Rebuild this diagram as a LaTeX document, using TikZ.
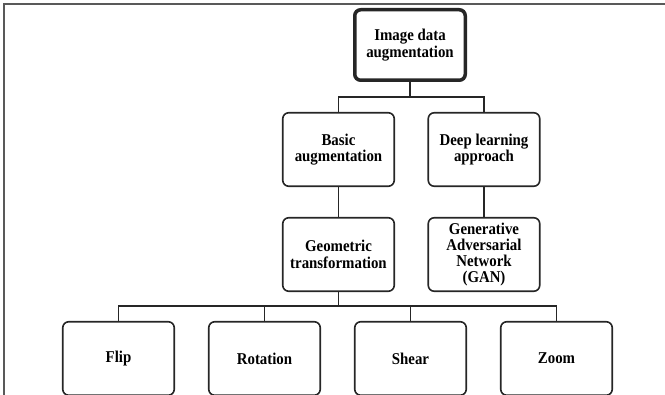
\documentclass[tikz,border=0pt]{standalone}
\usepackage{fontspec}
\setmainfont[FakeStretch=0.9]{Liberation Serif}

\tikzstyle{box} = [draw=black!85,line width=1.6pt,rounded corners=6pt,minimum width=111.5pt,minimum height=73.5pt,inner sep=2pt,align=center,font=\fontsize{16.5}{16.3}\selectfont\bfseries]
\tikzstyle{root box} = [box,line width=3.5pt,minimum width=110.5pt,minimum height=70.5pt]
\tikzstyle{link} = [draw=black!85,line width=1.6pt]
\tikzstyle{frame} = [draw=black!65,line width=1.5pt]

\begin{document}
\begin{tikzpicture}[x=1pt,y=-1pt]
    \useasboundingbox (0,0) rectangle (665,395);
    \draw[frame] (4,395) -- (4,4) -- (665,4);

    \node[root box] (augment) at (410,45) {Image data\\augmentation};

    \foreach \nodename/\x/\y/\caption in {
      basic/338.5/149.5/{Basic\\augmentation},
      deep/484/149.5/{Deep learning\\approach},
      geometric/338.5/254.5/{Geometric\\transformation},
      gan/484/254.5/{Generative\\Adversarial\\Network\\(GAN)},
      flip/118.5/358.5/Flip,
      rotation/264.5/358.5/Rotation,
      shear/410.5/358.5/Shear,
      zoom/556.5/358.5/Zoom}
    {
      \node[box] (\nodename) at (\x,\y) {\caption};
    }

    %connectors
    \path[link] (augment.south) -- ++(0,15);
    \path[link] (basic.north) -- ++(0,-15) -| (deep.north);
    \path[link] (basic) -- (geometric);
    \path[link] (deep) -- (gan);
    \path[link] (geometric.south) -- ++(0,14);
    \path[link] (flip.north) -- ++(0,-15) -| (zoom.north);
    \foreach \nodename in {rotation, shear}
    {
      \path[link] (\nodename.north) -- ++(0,-15);
    }
\end{tikzpicture}
\end{document}
